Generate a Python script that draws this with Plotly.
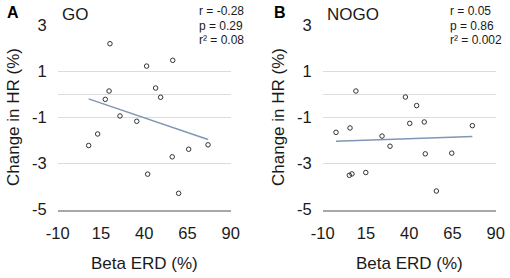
import numpy as np
import plotly.graph_objects as go

# GO panel data (Beta ERD %, Change in HR %)
go_x = [20.2, 41.4, 56.5, 19.7, 17.5, 46.6, 49.5, 26.0, 35.7, 13.1, 7.9, 56.2, 65.7, 76.9, 42.0, 59.9]
go_y = [2.19, 1.22, 1.47, 0.14, -0.22, 0.27, -0.13, -0.94, -1.17, -1.72, -2.22, -2.71, -2.38, -2.19, -3.46, -4.29]
# NOGO panel data
nogo_x = [9.2, 37.8, 44.3, 40.3, 48.7, 76.5, 5.8, -2.3, 24.3, 28.9, 49.3, 64.6, 5.4, 6.9, 14.9, 55.7]
nogo_y = [0.14, -0.12, -0.49, -1.26, -1.20, -1.36, -1.46, -1.65, -1.81, -2.25, -2.58, -2.55, -3.51, -3.45, -3.39, -4.19]

x_ticks = [-10, 15, 40, 65, 90]
y_ticks = [-5, -3, -1, 1, 3]
panel_labels = ["A", "B"]
panel_titles = ["GO", "NOGO"]
stats = [["r = -0.28", "p = 0.29", "r² = 0.08"], ["r = 0.05", "p = 0.86", "r² = 0.002"]]

W, H = 510, 278
FONT = "Liberation Sans, Arial, Helvetica, sans-serif"
GRID = "#dcdcdc"
AXIS = "#a8a8a8"
TREND = "#7f97b5"

fig = go.Figure()

datasets = [(go_x, go_y), (nogo_x, nogo_y)]
domains_px = [(57.7, 230.7), (322.7, 495.7)]
ytop_px, ybot_px = 25.0, 209.7

for i, (xs, ys) in enumerate(datasets):
    ax = "" if i == 0 else "2"
    xs_a = np.array(xs); ys_a = np.array(ys)
    m, b = np.polyfit(xs_a, ys_a, 1)
    lx = np.array([xs_a.min(), xs_a.max()])
    fig.add_trace(go.Scatter(x=lx, y=m * lx + b, mode="lines",
                             line=dict(color=TREND, width=1.5),
                             xaxis="x" + ax, yaxis="y" + ax, showlegend=False,
                             hoverinfo="skip"))
    fig.add_trace(go.Scatter(x=xs, y=ys, mode="markers",
                             marker=dict(symbol="circle-open", size=4.5,
                                         color="#333333", line=dict(width=1, color="#333333")),
                             xaxis="x" + ax, yaxis="y" + ax, showlegend=False))

layout = dict(
    width=W, height=H, margin=dict(l=0, r=0, t=0, b=0, autoexpand=False),
    paper_bgcolor="white", plot_bgcolor="white",
    font=dict(family=FONT, color="#1a1a1a"),
)

for i in range(2):
    ax = "" if i == 0 else "2"
    x0, x1 = domains_px[i]
    layout["xaxis" + ax] = dict(
        domain=[x0 / W, x1 / W], range=[-10, 90], tickmode="array", tickvals=x_ticks,
        ticktext=[str(t) for t in x_ticks], showgrid=False, zeroline=False,
        showline=True, linecolor=AXIS, linewidth=1.5, ticks="", ticklabelstandoff=8,
        automargin=False,
        tickfont=dict(size=16.5, family=FONT, color="#1a1a1a"),
        anchor="y" + ax, fixedrange=True,
    )
    layout["yaxis" + ax] = dict(
        domain=[1 - ybot_px / H, 1 - ytop_px / H], range=[-5, 3], tickmode="array",
        tickvals=y_ticks, ticktext=[str(t) for t in y_ticks],
        showgrid=True, gridcolor=GRID, gridwidth=1,
        zeroline=True, zerolinecolor=GRID, zerolinewidth=1,
        showline=False, ticks="", ticklabelstandoff=10, automargin=False,
        tickfont=dict(size=16.5, family=FONT, color="#1a1a1a"),
        anchor="x" + ax, fixedrange=True,
    )

annotations = []
label_x = [5, 272]
title_x = [60, 325]
stats_x = [198, 449]
ytitle_x = [13, 278]
for i in range(2):
    x0, x1 = domains_px[i]
    annotations.append(dict(text="<b>" + panel_labels[i] + "</b>", x=label_x[i] / W, y=1 - 2 / H,
                            xref="paper", yref="paper", xanchor="left", yanchor="top",
                            showarrow=False, font=dict(size=16, family=FONT, color="#000")))
    annotations.append(dict(text=panel_titles[i], x=title_x[i] / W, y=1 - 3 / H,
                            xref="paper", yref="paper", xanchor="left", yanchor="top",
                            showarrow=False, font=dict(size=17, family=FONT, color="#1a1a1a")))
    for j, s in enumerate(stats[i]):
        annotations.append(dict(text=s, x=stats_x[i] / W, y=1 - (11.5 + 14.5 * j) / H,
                                xref="paper", yref="paper", xanchor="left", yanchor="middle",
                                showarrow=False, bgcolor="white", borderpad=0,
                                font=dict(size=12, family=FONT, color="#1a1a1a")))
    annotations.append(dict(text="Beta ERD (%)", x=(x0 + x1) / 2 / W, y=1 - 263 / H,
                            xref="paper", yref="paper", xanchor="center", yanchor="middle",
                            showarrow=False, font=dict(size=17, family=FONT, color="#1a1a1a")))
    annotations.append(dict(text="Change in HR (%)", x=ytitle_x[i] / W, y=1 - 117 / H,
                            xref="paper", yref="paper", xanchor="center", yanchor="middle",
                            textangle=-90, showarrow=False,
                            font=dict(size=17, family=FONT, color="#1a1a1a")))

layout["annotations"] = annotations
fig.update_layout(**layout)
fig.write_html("out.html", config={"displayModeBar": False},
               post_script="document.body.style.margin='0';document.body.style.padding='0';")
